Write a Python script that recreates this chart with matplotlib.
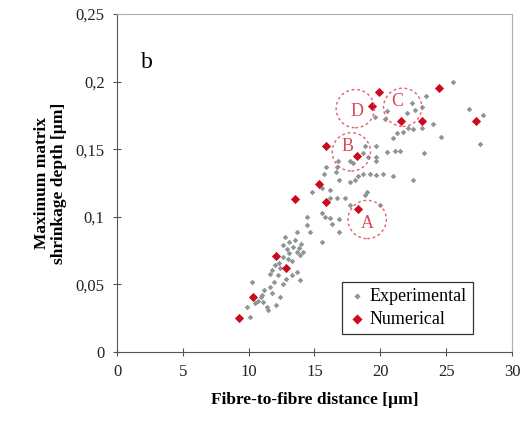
import matplotlib.pyplot as plt

exp_x = [25.5, 23.5, 26.7, 27.8, 27.6, 24.6, 23.3, 24.0, 23.2, 22.5, 22.1, 21.7, 21.0, 21.3,
         22.4, 22.6, 22.0, 23.2, 20.5, 20.35, 19.6, 21.5, 21.1, 20.5, 19.7, 18.8, 19.7, 19.7,
         18.7, 19.1, 17.9, 17.7, 16.8, 16.7, 15.9, 16.6, 15.7, 16.9, 17.7, 18.1, 18.3, 18.7,
         19.2, 19.7, 20.2, 21.0, 22.5, 14.8, 15.6, 16.2, 16.2, 16.7, 17.3, 19.0, 18.8, 14.4,
         14.4, 14.65, 13.7, 15.6, 15.8, 16.2, 16.3, 16.9, 16.9, 15.6, 17.7, 20.0, 12.75, 13.1,
         13.4, 12.6, 13.7, 14.1, 13.9, 13.1, 12.6, 13.3, 12.4, 11.8, 11.6, 12.2, 13.3, 13.7,
         13.9, 12.6, 11.6, 11.2, 10.25, 11.8, 12.4, 10.9, 11.1, 10.5, 11.4, 9.9, 12.1, 10.1,
         11.5, 10.7, 11.0, 12.9, 13.5, 12.3, 12.0, 13.0, 13.8, 14.0, 12.8, 11.9]
exp_y = [0.200, 0.189, 0.180, 0.175, 0.154, 0.159, 0.147, 0.169, 0.166, 0.165, 0.166, 0.163,
         0.158, 0.162, 0.184, 0.179, 0.177, 0.181, 0.178, 0.172, 0.174, 0.149, 0.149, 0.148,
         0.152, 0.152, 0.144, 0.141, 0.147, 0.144, 0.140, 0.141, 0.141, 0.137, 0.137, 0.133,
         0.132, 0.127, 0.126, 0.127, 0.130, 0.132, 0.132, 0.131, 0.132, 0.130, 0.127, 0.118,
         0.121, 0.120, 0.114, 0.114, 0.114, 0.118, 0.116, 0.100, 0.094, 0.089, 0.089, 0.103,
         0.100, 0.099, 0.095, 0.098, 0.089, 0.081, 0.109, 0.109, 0.085, 0.081, 0.078, 0.079,
         0.074, 0.074, 0.072, 0.073, 0.070, 0.067, 0.062, 0.061, 0.058, 0.057, 0.057, 0.059,
         0.053, 0.050, 0.048, 0.046, 0.052, 0.044, 0.041, 0.041, 0.037, 0.036, 0.033, 0.033,
         0.035, 0.026, 0.031, 0.038, 0.042, 0.076, 0.083, 0.066, 0.064, 0.069, 0.077, 0.080,
         0.054, 0.052]

# Numerical results (red)
num_x = [9.3, 10.3, 12.1, 12.8, 13.5, 15.35, 15.9, 15.9, 18.2, 18.3, 19.4, 19.9, 21.6, 23.2,
         24.45, 27.3]
num_y = [0.025, 0.041, 0.071, 0.062, 0.113, 0.124, 0.111, 0.152, 0.145, 0.106, 0.182, 0.192,
         0.171, 0.171, 0.195, 0.171]

# Highlighted regions
circle_names = ['A', 'B', 'C', 'D']
circle_x = [19.0, 17.8, 21.7, 18.1]
circle_y = [0.098, 0.148, 0.181, 0.180]
letter_x = [19.0, 17.5, 21.3, 18.2]
letter_y = [0.095, 0.152, 0.185, 0.178]

serif = 'Liberation Serif'

fig = plt.figure(figsize=(5.24, 4.28), dpi=100)
ax = fig.add_axes([0.2233, 0.1776, 0.7537, 0.7897])

ax.scatter(exp_x, exp_y, marker='D', s=8, color='#8f9494', linewidths=0,
           label='Experimental', zorder=2)
ax.scatter(num_x, num_y, marker='D', s=22, color='#cc0a1e', linewidths=0,
           label='Numerical', zorder=3)
ax.scatter(circle_x, circle_y, marker='o', s=760, facecolors='none',
           edgecolors='#e0606e', linewidths=1.0, linestyles=(0, (2, 2)), zorder=4)
for name, lx, ly in zip(circle_names, letter_x, letter_y):
    ax.text(lx, ly, name, color='#d84a5a', fontsize=13, family=serif,
            ha='center', va='center', zorder=5)

ax.text(2.3, 0.214, 'b', fontsize=17, family=serif, ha='center', va='center')

ax.set_xlim(0, 30)
ax.set_ylim(0, 0.25)
ax.set_xticks([0, 5, 10, 15, 20, 25, 30])
ax.set_yticks([0, 0.05, 0.1, 0.15, 0.2, 0.25])
ax.set_yticklabels(['0', '0,05', '0,1', '0,15', '0,2', '0,25'])
ax.tick_params(direction='inout', length=6, width=0.8, color='#555555',
               labelsize=12, pad=6, labelcolor='#222222')
for lab in ax.get_xticklabels() + ax.get_yticklabels():
    lab.set_family(serif)

ax.spines['left'].set_color('#555555')
ax.spines['bottom'].set_color('#555555')
ax.spines['top'].set_color('#b0b0b0')
ax.spines['right'].set_color('#b0b0b0')

ax.set_xlabel('Fibre-to-fibre distance [µm]', fontsize=12.5, fontweight='bold',
              family=serif, labelpad=8)
ax.set_ylabel('Maximum matrix\nshrinkage depth [µm]', fontsize=12.5, fontweight='bold',
              family=serif, labelpad=6, linespacing=1.1)

leg = ax.legend(loc='lower right', bbox_to_anchor=(0.925, 0.027), fancybox=False,
                framealpha=1, edgecolor='#333333', prop={'family': serif, 'size': 13},
                handletextpad=0.2, borderpad=0.35, labelspacing=0.3, handlelength=1.0,
                markerscale=1.1)
leg.get_frame().set_linewidth(0.9)

fig.savefig('out.png', dpi=100)
